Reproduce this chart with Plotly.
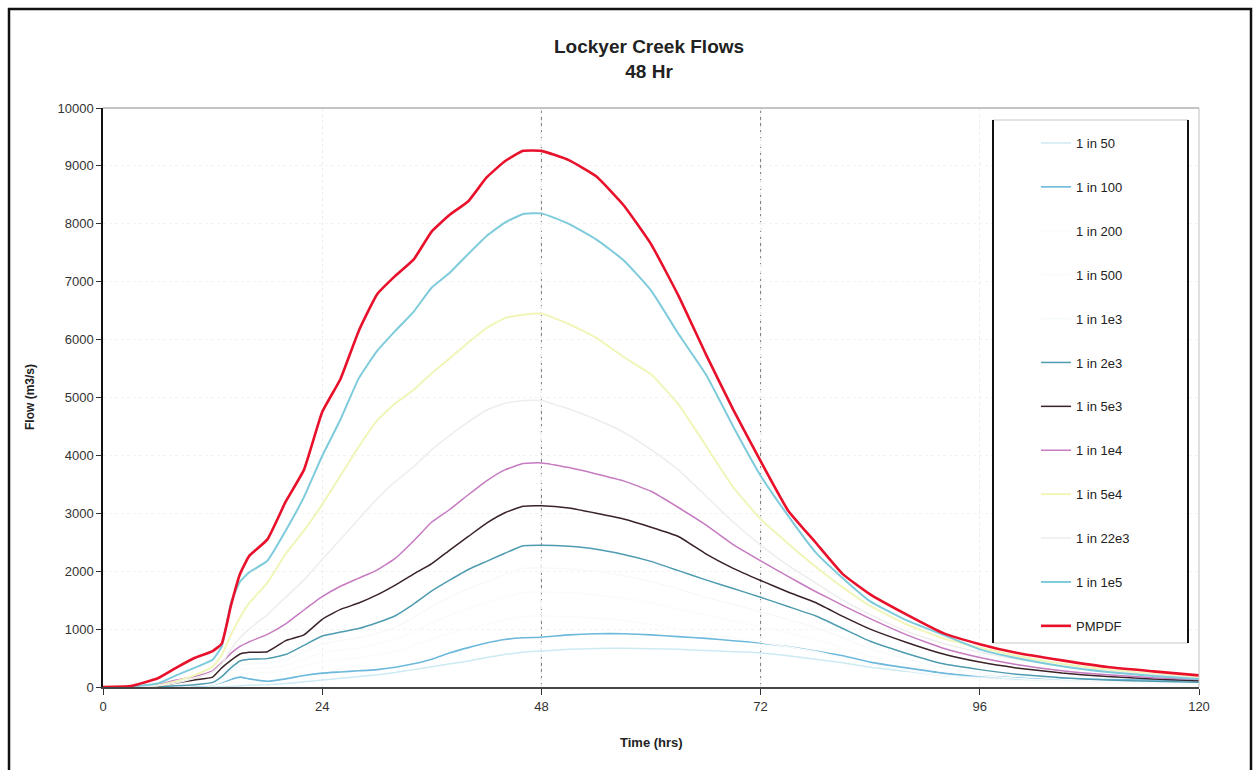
import plotly.graph_objects as go

# ---- data ----
hours = [0, 3, 6, 8, 10, 12, 13, 14, 15, 16, 18, 20, 22, 24, 26, 28, 30, 32, 34, 36, 38, 40, 42, 44, 46, 48,
         51, 54, 57, 60, 63, 66, 69, 72, 75, 78, 81, 84, 88, 92, 96, 100, 105, 110, 115, 120]

series_names = ["1 in 50", "1 in 100", "1 in 200", "1 in 500", "1 in 1e3", "1 in 2e3", "1 in 5e3",
                "1 in 1e4", "1 in 5e4", "1 in 22e3", "1 in 1e5", "PMPDF"]

flow_1in50 = [0, 0, 0, 0, 0, 0, 5, 10, 20, 30, 40, 60, 90, 120, 150, 180, 210, 250, 300, 350, 400, 450, 510, 560, 600, 620,
              650, 665, 670, 660, 650, 630, 610, 590, 540, 480, 420, 340, 270, 200, 160, 130, 110, 100, 90, 80]
flow_1in100 = [0, 0, 0, 5, 15, 40, 80, 130, 170, 140, 100, 140, 200, 240, 260, 280, 300, 340, 400, 480, 590, 680, 760, 820, 850, 860,
               900, 920, 920, 900, 870, 840, 800, 760, 700, 620, 540, 430, 330, 240, 190, 160, 140, 130, 120, 110]
flow_1in200 = [0, 0, 2, 10, 20, 40, 90, 160, 220, 240, 245, 280, 360, 440, 475, 505, 555, 615, 715, 830, 925, 1015, 1085, 1155, 1220, 1225,
               1215, 1190, 1145, 1085, 1005, 925, 850, 775, 695, 615, 505, 395, 290, 200, 150, 110, 80, 60, 50, 40]
flow_1in500 = [0, 0, 3, 13, 27, 54, 120, 220, 300, 320, 330, 375, 480, 590, 635, 675, 745, 825, 960, 1110, 1240, 1360, 1455, 1550, 1635, 1640,
               1630, 1595, 1535, 1455, 1345, 1240, 1140, 1040, 930, 825, 675, 530, 390, 270, 200, 150, 105, 80, 65, 55]
flow_1in1e3 = [0, 0, 4, 17, 34, 67, 150, 275, 375, 400, 410, 470, 600, 740, 800, 850, 930, 1030, 1200, 1390, 1550, 1700, 1820, 1940, 2050, 2055,
               2040, 2000, 1920, 1820, 1690, 1550, 1425, 1300, 1165, 1030, 850, 660, 485, 335, 250, 185, 135, 100, 85, 65]
flow_1in2e3 = [0, 0, 5, 20, 40, 80, 180, 330, 450, 480, 490, 560, 720, 880, 950, 1010, 1110, 1230, 1430, 1660, 1850, 2030, 2170, 2310, 2440, 2450,
               2430, 2380, 2290, 2170, 2010, 1850, 1700, 1550, 1390, 1230, 1010, 790, 580, 400, 300, 220, 160, 120, 100, 80]
flow_1in5e3 = [0, 1, 20, 70, 120, 170, 330, 460, 570, 600, 610, 800, 900, 1170, 1340, 1450, 1590, 1760, 1950, 2130, 2370, 2600, 2830, 3010, 3120, 3130,
               3090, 3000, 2900, 2760, 2600, 2300, 2050, 1840, 1640, 1460, 1220, 1000, 770, 570, 430, 330, 240, 180, 140, 110]
flow_1in1e4 = [0, 2, 40, 120, 180, 280, 420, 580, 700, 780, 910, 1090, 1330, 1560, 1740, 1880, 2020, 2220, 2520, 2850, 3070, 3320, 3560, 3750, 3860, 3870,
               3790, 3680, 3560, 3380, 3100, 2800, 2460, 2180, 1910, 1650, 1410, 1180, 900, 670, 510, 390, 280, 210, 160, 130]
flow_1in5e4 = [0, 3, 30, 100, 200, 350, 550, 900, 1200, 1450, 1800, 2300, 2700, 3150, 3650, 4150, 4600, 4900, 5130, 5420, 5680, 5950, 6200, 6370, 6430, 6450,
               6270, 6030, 5700, 5400, 4880, 4170, 3450, 2900, 2480, 2080, 1720, 1400, 1080, 840, 680, 540, 400, 300, 230, 170]
flow_1in22e3 = [0, 2, 20, 70, 150, 260, 400, 650, 850, 1000, 1250, 1550, 1850, 2200, 2550, 2900, 3250, 3550, 3800, 4100, 4350, 4580, 4780, 4900, 4950, 4950,
                4800, 4620, 4400, 4100, 3750, 3300, 2850, 2450, 2100, 1800, 1500, 1250, 960, 750, 600, 480, 360, 270, 210, 150]
flow_1in1e5 = [0, 5, 60, 200, 330, 470, 700, 1450, 1820, 1980, 2180, 2700, 3280, 3990, 4620, 5330, 5800, 6150, 6480, 6900, 7160, 7480, 7790, 8020, 8170, 8180,
               8000, 7730, 7370, 6850, 6100, 5400, 4500, 3650, 2960, 2330, 1880, 1480, 1150, 900, 650, 500, 360, 260, 190, 140]
flow_pmpdf = [0, 15, 150, 330, 500, 620, 750, 1400, 1950, 2260, 2550, 3200, 3750, 4750, 5320, 6150, 6780, 7100, 7380, 7870, 8160, 8390, 8800, 9080, 9260, 9260,
              9100, 8820, 8320, 7650, 6760, 5750, 4790, 3900, 3050, 2500, 1950, 1600, 1250, 930, 740, 590, 460, 345, 270, 200]

flows = [flow_1in50, flow_1in100, flow_1in200, flow_1in500, flow_1in1e3, flow_1in2e3, flow_1in5e3,
         flow_1in1e4, flow_1in5e4, flow_1in22e3, flow_1in1e5, flow_pmpdf]

x_ticks = [0, 24, 48, 72, 96, 120]
y_ticks = [0, 1000, 2000, 3000, 4000, 5000, 6000, 7000, 8000, 9000, 10000]
y_tick_labels = ["0", "1000", "2000", "3000", "4000", "5000", "6000", "7000", "8000", "9000", "10000"]

# ---- styles ----
colors = ["#cdeaf3", "#6cb9dc", "#fbfbfb", "#fbfbfb", "#f6fafb", "#4f9cb0", "#3a2326",
          "#c67ac0", "#f1f5b8", "#ededed", "#7ecbdc", "#e8102a"]
widths = [1.5, 1.6, 1.5, 1.5, 1.5, 1.5, 1.5, 1.5, 2.0, 1.5, 2.0, 2.6]

FONT = "Liberation Sans, Arial, sans-serif"

# pixel helpers for layout (plot area 103..1199 x, 108..687 y)
L, R, T, B = 103, 1199, 108, 687
def px(x):
    return (x - L) / (R - L)
def py(y):
    return (B - y) / (B - T)

fig = go.Figure()
for name, ys, c, w in zip(series_names, flows, colors, widths):
    fig.add_trace(go.Scatter(x=hours, y=ys, mode="lines", name=name, legendgroup=name,
                             line=dict(color=c, width=w, shape="spline", smoothing=0.4)))

shapes = []
# darker dashed gridlines at 48 and 72
for xv in x_ticks[2:4]:
    shapes.append(dict(type="line", xref="x", yref="paper", x0=xv, x1=xv, y0=0, y1=1,
                       line=dict(color="#7a7a7a", width=1, dash="4px,3px"), layer="below"))
# plot frame top/right (light grey)
shapes.append(dict(type="line", xref="paper", yref="paper", x0=0, x1=1, y0=1, y1=1,
                   line=dict(color="#b0b0b0", width=1.5)))
shapes.append(dict(type="line", xref="paper", yref="paper", x0=1, x1=1, y0=0, y1=1,
                   line=dict(color="#c0c0c0", width=1)))
# legend box
lx0, lx1, ly0, ly1 = px(993), px(1188), py(643), py(120)
shapes.append(dict(type="rect", xref="paper", yref="paper", x0=lx0, x1=lx1, y0=ly0, y1=ly1,
                   line=dict(color="#c8c8c8", width=1), fillcolor="white", layer="above"))
for xv in (lx0, lx1):
    shapes.append(dict(type="line", xref="paper", yref="paper", x0=xv, x1=xv, y0=ly0, y1=ly1,
                       line=dict(color="#111111", width=2)))
# outer chart border
shapes.append(dict(type="rect", xref="paper", yref="paper", x0=px(9), x1=px(1251), y0=py(778), y1=py(9),
                   line=dict(color="#111111", width=2.5)))

annotations = [
    dict(text="<b>Lockyer Creek Flows</b><br><b>48 Hr</b>", xref="paper", yref="paper",
         x=px(649), y=py(59), showarrow=False, font=dict(family=FONT, size=19, color="#222"),
         xanchor="center", yanchor="middle"),
    dict(text="<b>Flow (m3/s)</b>", xref="paper", yref="paper", x=px(30), y=py(397), textangle=-90,
         showarrow=False, font=dict(family=FONT, size=12, color="#222"), xanchor="center", yanchor="middle"),
    dict(text="<b>Time (hrs)</b>", xref="paper", yref="paper", x=px(651), y=py(742),
         showarrow=False, font=dict(family=FONT, size=13, color="#222"), xanchor="center", yanchor="middle"),
]

fig.update_layout(
    width=1259, height=770,
    margin=dict(l=L, r=1259 - R, t=T, b=770 - B),
    paper_bgcolor="white", plot_bgcolor="white",
    font=dict(family=FONT, size=13, color="#222"),
    showlegend=True,
    legend=dict(x=px(1036), y=py(128), xanchor="left", yanchor="top",
                bgcolor="rgba(0,0,0,0)", borderwidth=0,
                traceorder="grouped", tracegroupgap=24,
                font=dict(family=FONT, size=13, color="#222"), itemwidth=30),
    shapes=shapes,
    annotations=annotations,
    xaxis=dict(range=[0, 120], tickvals=x_ticks, ticks="outside", ticklen=6, tickcolor="#333",
               showline=True, linecolor="#444", linewidth=2, showgrid=True, gridcolor="#ececec",
               griddash="dot", zeroline=False, tickfont=dict(family=FONT, size=13, color="#333")),
    yaxis=dict(range=[0, 10000], tickvals=y_ticks, ticktext=y_tick_labels, ticks="outside", ticklen=5,
               tickcolor="#333", showline=True, linecolor="#111", linewidth=1.5, showgrid=True,
               gridcolor="#f3f3f3", griddash="dot", zeroline=False,
               tickfont=dict(family=FONT, size=13, color="#333")),
)

fig.write_html("out.html")
